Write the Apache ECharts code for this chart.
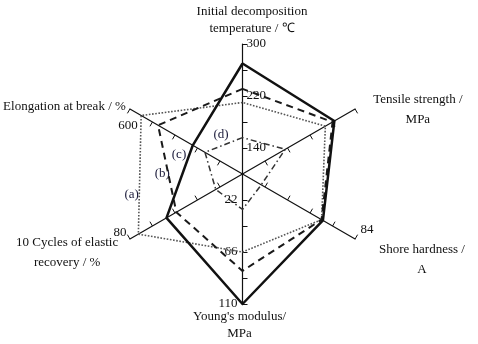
<!DOCTYPE html>
<html><head><meta charset="utf-8">
<script src="https://cdn.jsdelivr.net/npm/echarts@6/dist/echarts.min.js"></script>
<style>html,body{margin:0;padding:0;background:#fff}#c{width:478px;height:344px}</style>
</head><body><div id="c"></div>
<script>
// ---- data ----
const indicatorNames = ['Initial decomposition\ntemperature / \u2103', 'Elongation at break / %', '10 Cycles of elastic\nrecovery / %', "Young's modulus/\nMPa", 'Shore hardness /\nA', 'Tensile strength /\nMPa'];
const indicatorMin = [100, 0, 0, 0, 0, 0];
const indicatorMax = [300, 600, 80, 110, 84, 50];
const tickLabels = [[140, 220, 300], [600], [80], [22, 66, 110], [84], []];
const seriesNames = ['(a)', '(b)', '(c)', '(d)'];
const seriesA = [210, 540, 74, 66, 59, 36.8];
const seriesB = [231, 450, 47, 82, 59, 40];
const seriesC = [270, 265, 54, 110, 60, 40.8];
const seriesD = [156, 200, 19, 30, 14, 19];

// ---- layout / style (not data) ----
const FONT = '"Liberation Serif", "Times New Roman", serif';
const SPLIT = 5;
const axisLayout = [
  { gap: 24, pad: [0, 0, 0, 19], lh: 17, lm: -4, la: 'left', lva: 'middle', tl: -5 },
  { gap: 4, pad: [0, 124, 0, 0], lh: 18, lm: 12, la: 'center', lva: 'top', tl: 5, lp: [0, 0, 0, 8] },
  { gap: 28, pad: [0, 77, 0, 0], lh: 20, lm: -7, la: 'right', lva: 'middle', tl: -5 },
  { gap: 21, pad: [0, 6, 0, 0], lh: 17.5, lm: -5, la: 'right', lva: 'middle', tl: 5 },
  { gap: 42, pad: [0, 0, 0, 61], lh: 20, lm: 11, la: 'left', lva: 'middle', tl: 5 },
  { gap: -2, pad: [0, 0, 0, 129], lh: 20, lm: 0, la: 'left', lva: 'middle', tl: -5 }
];
const lineStyles = [
  { type: 'dotted', width: 1.6, color: '#555' },
  { type: [7, 5], width: 2, color: '#1a1a1a' },
  { type: 'solid', width: 2.5, color: '#111' },
  { type: [6, 3, 1.5, 3], width: 1.5, color: '#333' }
];
const seriesLabelPos = [[131.7, 195], [162.3, 173.3], [179, 155], [221, 135]];

const indicator = indicatorNames.map((n, i) => {
  const L = axisLayout[i];
  const labs = tickLabels[i];
  const step = (indicatorMax[i] - indicatorMin[i]) / SPLIT;
  const tickVals = [];
  for (let k = 1; k <= SPLIT; k++) tickVals.push(indicatorMin[i] + k * step);
  return {
    name: n, min: indicatorMin[i], max: indicatorMax[i],
    nameGap: L.gap,
    nameMoveOverlap: false,
    nameTextStyle: { align: 'center', verticalAlign: 'middle', padding: L.pad, lineHeight: L.lh, color: '#111', fontFamily: FONT, fontSize: 13 },
    axisLabel: {
      show: labs.length > 0, margin: L.lm, align: L.la, verticalAlign: L.lva,
      padding: L.lp || 0,
      fontFamily: FONT, fontSize: 13, color: '#111',
      customValues: labs,
      formatter: v => labs.some(t => Math.abs(t - v) < 1e-6) ? String(Math.round(v)) : ''
    },
    axisTick: { show: true, length: L.tl, customValues: tickVals, lineStyle: { color: '#111', width: 1 } }
  };
});

const chart = echarts.init(document.getElementById('c'), null, { renderer: 'canvas' });
chart.setOption({
  animation: false,
  backgroundColor: '#fff',
  radar: {
    center: [242.5, 174],
    radius: 130,
    startAngle: 90,
    splitNumber: SPLIT,
    shape: 'polygon',
    nameGap: 0,
    nameMoveOverlap: false,
    axisName: { color: '#111', fontFamily: FONT, fontSize: 13 },
    axisLine: { lineStyle: { color: '#111', width: 1.2 } },
    splitLine: { show: false },
    splitArea: { show: false },
    indicator: indicator
  },
  graphic: seriesNames.map((n, i) => ({
    type: 'text', x: seriesLabelPos[i][0], y: seriesLabelPos[i][1],
    style: { text: n, align: 'center', verticalAlign: 'middle', font: '13px ' + FONT, fill: '#1a1a3a' }
  })),
  series: [{
    type: 'radar',
    symbol: 'none',
    data: [seriesA, seriesB, seriesC, seriesD].map((v, i) => ({
      name: seriesNames[i], value: v,
      lineStyle: lineStyles[i], itemStyle: { color: lineStyles[i].color }
    }))
  }]
});
</script></body></html>
